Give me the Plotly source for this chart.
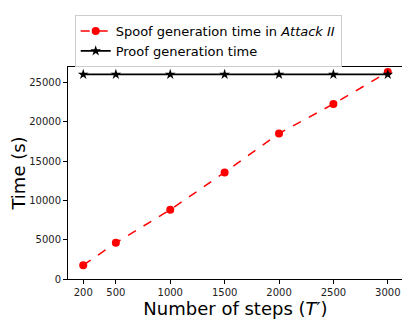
import plotly.graph_objects as go

steps = [200, 500, 1000, 1500, 2000, 2500, 3000]
spoof_time = [1750, 4600, 8800, 13550, 18500, 22250, 26300]
proof_time = [26000, 26000, 26000, 26000, 26000, 26000, 26000]
x_ticks = [200, 500, 1000, 1500, 2000, 2500, 3000]
y_ticks = [0, 5000, 10000, 15000, 20000, 25000]

fig = go.Figure()
fig.add_trace(go.Scatter(
    x=steps, y=spoof_time, mode="lines+markers",
    name="Spoof generation time in <i>Attack II</i>",
    line=dict(color="red", dash="dash", width=1.5),
    marker=dict(color="red", size=8, symbol="circle"),
))
fig.add_trace(go.Scatter(
    x=steps, y=proof_time, mode="lines+markers",
    name="Proof generation time",
    line=dict(color="black", width=1.8),
    marker=dict(color="black", size=8, symbol="star"),
))

axis_style = dict(
    showline=True, linecolor="black", linewidth=1, mirror=True,
    showgrid=False, zeroline=False, automargin=False,
    ticks="outside", ticklen=4, tickcolor="black",
    tickfont=dict(size=10, color="#222"),
)
fig.update_xaxes(
    range=[60, 3140], tickvals=x_ticks, ticktext=[str(v) for v in x_ticks],
    title=dict(text="Number of steps (<i>T</i>′)", font=dict(size=18, color="black"), standoff=0),
    **axis_style,
)
fig.update_yaxes(
    range=[0, 26950], tickvals=y_ticks, ticktext=[str(v) for v in y_ticks],
    title=dict(text="Time (s)", font=dict(size=18, color="black"), standoff=12),
    **axis_style,
)
# page body adds an 8px margin, so the figure is 8px smaller each way
fig.update_layout(
    width=402, height=322,
    margin=dict(l=60, r=7, t=54, b=51),
    paper_bgcolor="white", plot_bgcolor="white",
    font=dict(family="DejaVu Sans", color="black"),
    legend=dict(
        x=0.02, y=1.245, xanchor="left", yanchor="top",
        bordercolor="#cccccc", borderwidth=1, bgcolor="white",
        font=dict(size=13), itemwidth=30, tracegroupgap=0,
    ),
    showlegend=True,
)
fig.write_html("out.html")
